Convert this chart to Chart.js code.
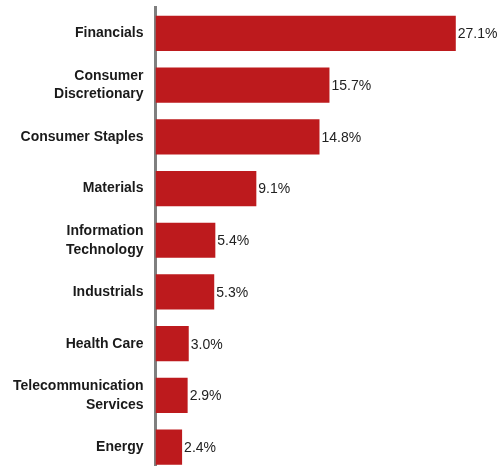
<!DOCTYPE html>
<html>
<head>
<meta charset="utf-8">
<script src="https://cdn.jsdelivr.net/npm/chart.js@4/dist/chart.umd.min.js"></script>
<style>
  html, body { margin: 0; padding: 0; background: #fff; overflow: hidden; }
  #wrap { position: relative; width: 500px; height: 475px; }
</style>
</head>
<body>
<div id="wrap"><canvas id="sectorChart"></canvas></div>
<script>
// sector weights (%)
const sectors = [
  "Financials",
  ["Consumer", "Discretionary"],
  "Consumer Staples",
  "Materials",
  ["Information", "Technology"],
  "Industrials",
  "Health Care",
  ["Telecommunication", "Services"],
  "Energy"
];
const weights = [27.1, 15.7, 14.8, 9.1, 5.4, 5.3, 3.0, 2.9, 2.4];

// draws the "27.1%" text just past the end of each bar
const valueLabels = {
  id: "valueLabels",
  afterDatasetsDraw(chart) {
    const ctx = chart.ctx;
    const meta = chart.getDatasetMeta(0);
    ctx.save();
    ctx.font = "14px 'Liberation Sans', Arial, sans-serif";
    ctx.fillStyle = "#222";
    ctx.textAlign = "left";
    ctx.textBaseline = "middle";
    meta.data.forEach((bar, i) => {
      ctx.fillText(weights[i].toFixed(1) + "%", bar.x + 2, bar.y + 1);
    });
    ctx.restore();
  }
};

const chart = new Chart(document.getElementById("sectorChart"), {
  type: "bar",
  data: {
    labels: sectors,
    datasets: [{
      data: weights,
      backgroundColor: "#BD1A1D",
      borderWidth: 0,
      barPercentage: 0.68,
      categoryPercentage: 1
    }]
  },
  options: {
    indexAxis: "y",
    responsive: true,
    maintainAspectRatio: false,
    animation: false,
    layout: { padding: { top: 7.6, bottom: 2.1, right: 1, left: 0 } },
    plugins: {
      legend: { display: false },
      tooltip: { enabled: false }
    },
    scales: {
      x: {
        display: false,
        min: 0,
        max: 31
      },
      y: {
        z: 1,
        grid: { display: false, drawTicks: false },
        border: { display: true, color: "#7f7f7f", width: 3 },
        ticks: {
          color: "#1a1a1a",
          padding: 12,
          font: { family: "'Liberation Sans', Arial, sans-serif", size: 14, weight: "bold", lineHeight: 1.35 }
        },
        afterFit(scale) {
          scale.width = 155.5;
          scale.paddingTop = 0;
          scale.paddingBottom = 0;
        }
      }
    }
  },
  plugins: [valueLabels]
});
</script>
</body>
</html>
